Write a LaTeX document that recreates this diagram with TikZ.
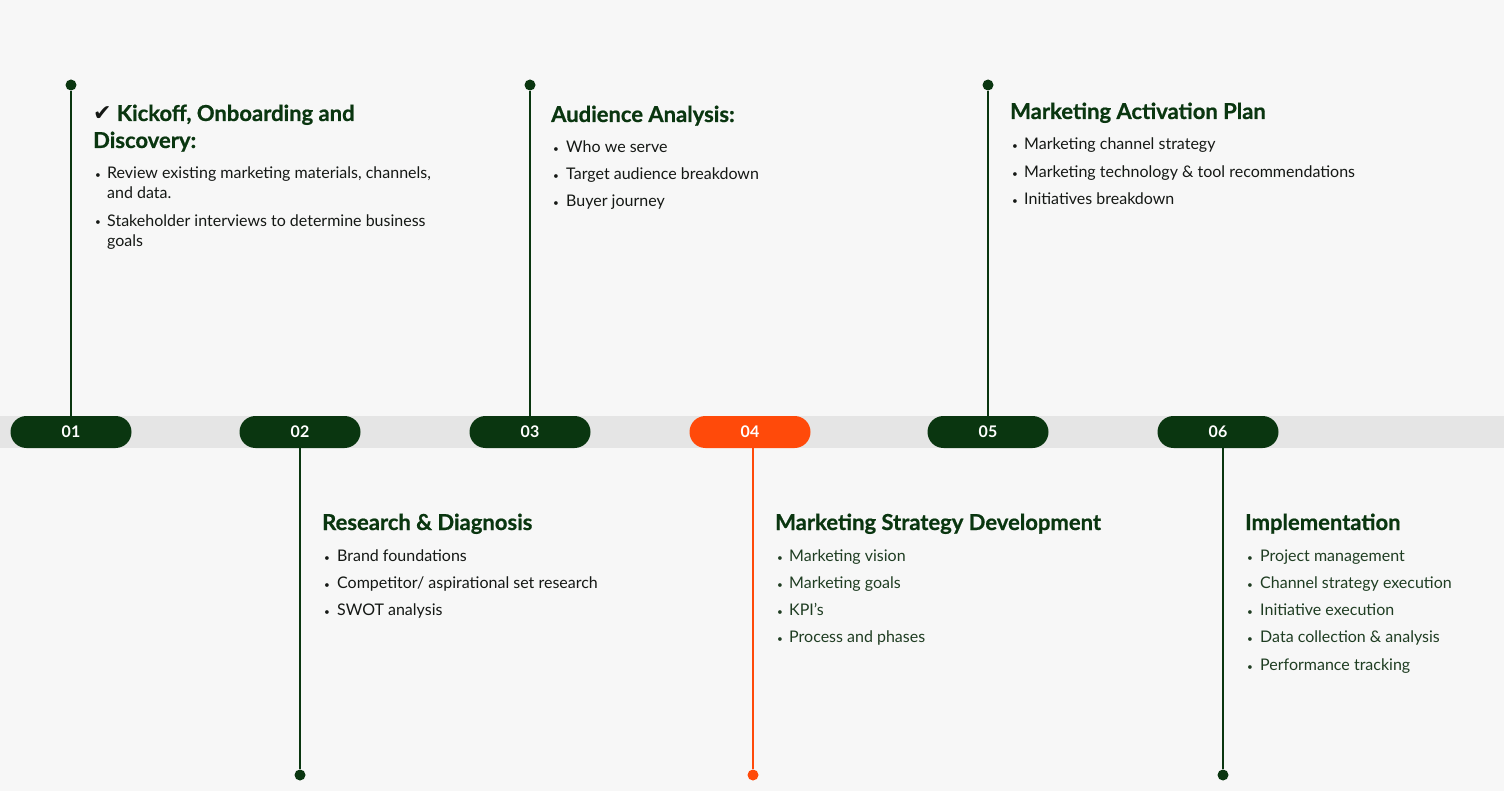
\documentclass[tikz,border=0pt]{standalone}
\usepackage{fontspec}
\setmainfont{Lato}
\newfontfamily\symfont{DejaVu Sans}
\newfontfamily\headfont[FakeBold=0.7]{Lato Bold}
\definecolor{paper}{HTML}{F7F7F7}
\definecolor{band}{HTML}{E5E5E5}
\definecolor{forest}{HTML}{0A3610}
\definecolor{flame}{HTML}{FF4A0A}
\definecolor{ink}{HTML}{151815}
\definecolor{leaf}{HTML}{1F3D22}
\tikzset{x=1pt, y=-1pt,
    phase/.style={rectangle, rounded corners=16pt, minimum width=121pt, minimum height=32pt,
        inner sep=0pt, fill=forest, text=white, font=\fontsize{16}{18}\selectfont\bfseries},
    pin/.style={circle, fill=forest, minimum size=11pt, inner sep=0pt},
    stem/.style={draw=forest, line width=1.6pt},
    title/.style={anchor=base west, align=left, inner sep=0pt, text=forest,
        font=\fontsize{22}{27}\selectfont\headfont},
    item/.style={anchor=base west, align=left, inner sep=0pt, text=ink,
        font=\fontsize{16}{20}\selectfont},
    bullet/.style={anchor=base west, inner sep=0pt, text=ink, font=\fontsize{10}{10}\selectfont}}
\begin{document}
\begin{tikzpicture}
    \fill[paper] (0,0) rectangle (1504,791);
    \useasboundingbox (0,0) rectangle (1504,791);
    \fill[band] (0,416) rectangle (1504,448);
    % phase pills
    \node[phase] (p01) at (71,432) {01};
    \node[phase] (p02) at (300,432) {02};
    \node[phase] (p03) at (530,432) {03};
    \node[phase, fill=flame] (p04) at (750,432) {04};
    \node[phase] (p05) at (988,432) {05};
    \node[phase] (p06) at (1218,432) {06};
    % stems
    \node[pin] (d01) at (71,85) {};
    \node[pin] (d03) at (530,85) {};
    \node[pin] (d05) at (988,85) {};
    \node[pin] (d02) at (300,775) {};
    \node[pin, fill=flame] (d04) at (753,775) {};
    \node[pin] (d06) at (1223,775) {};
    \draw[stem] (d01) -- (p01);
    \draw[stem] (d03) -- (p03);
    \draw[stem] (d05) -- (p05);
    \draw[stem] (d02) -- (p02);
    \draw[stem, draw=flame] (d04) -- (d04 |- p04.south);
    \draw[stem] (d06) -- (d06 |- p06.south);
    % 01 (base of a two-line node is its last line)
    \node[title] (t1) at (93,148) {{\symfont\color{ink}\char"2714}\ Kickoff, Onboarding and\\Discovery:};
    \node[bullet] (b11) at (95,179) {\textbullet};
    \node[item] (i11) at (107,199) {Review existing marketing materials, channels,\\and data.};
    \node[bullet] (b12) at (95,226) {\textbullet};
    \node[item] (i12) at (107,247) {Stakeholder interviews to determine business\\goals};
    % 03
    \node[title] (t3) at (551,122) {Audience Analysis:};
    \foreach \txt [count=\i] in {Who we serve, Target audience breakdown, Buyer journey} {
        \node[bullet] (b3\i) at (553,{153+27*(\i-1)}) {\textbullet};
        \node[item] (i3\i) at (566,{153+27*(\i-1)}) {\txt};
    }
    % 05
    \node[title] (t5) at (1010,119) {Marketing Activation Plan};
    \foreach \txt [count=\i] in {Marketing channel strategy, Marketing technology \& tool recommendations,
        Initiatives breakdown} {
        \node[bullet] (b5\i) at (1012,{150+27.3*(\i-1)}) {\textbullet};
        \node[item] (i5\i) at (1024,{150+27.3*(\i-1)}) {\txt};
    }
    % 02
    \node[title] (t2) at (322,530) {Research \& Diagnosis};
    \foreach \txt [count=\i] in {Brand foundations, Competitor/ aspirational set research, SWOT analysis} {
        \node[bullet] (b2\i) at (324,{561+27.3*(\i-1)}) {\textbullet};
        \node[item] (i2\i) at (337,{561+27.3*(\i-1)}) {\txt};
    }
    % 04
    \node[title] (t4) at (775,530) {Marketing Strategy Development};
    \foreach \txt [count=\i] in {Marketing vision, Marketing goals, KPI’s, Process and phases} {
        \node[bullet, text=leaf] (b4\i) at (777,{561+27.3*(\i-1)}) {\textbullet};
        \node[item, text=leaf] (i4\i) at (789,{561+27.3*(\i-1)}) {\txt};
    }
    % 06
    \node[title] (t6) at (1245,530) {Implementation};
    \foreach \txt [count=\i] in {Project management, Channel strategy execution, Initiative execution,
        Data collection \& analysis, Performance tracking} {
        \node[bullet, text=leaf] (b6\i) at (1247,{561+27.3*(\i-1)}) {\textbullet};
        \node[item, text=leaf] (i6\i) at (1260,{561+27.3*(\i-1)}) {\txt};
    }
\end{tikzpicture}
\end{document}
